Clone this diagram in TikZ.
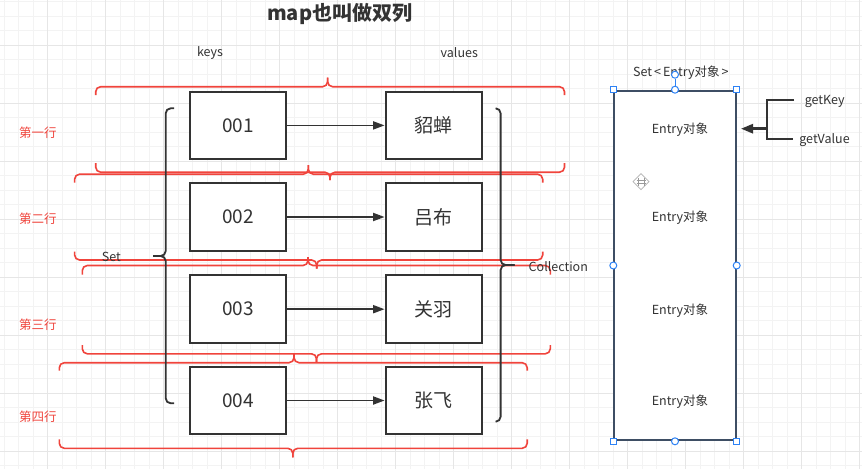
\documentclass[tikz,border=0pt]{standalone}
\usepackage{fontspec}
\setmainfont{Noto Sans CJK SC}
\usetikzlibrary{arrows.meta}
\definecolor{redb}{RGB}{240,68,60}
\definecolor{dk}{RGB}{51,51,51}
\definecolor{gridminor}{RGB}{243,243,243}
\definecolor{gridmajor}{RGB}{230,230,230}
\definecolor{rectc}{RGB}{62,78,100}
\definecolor{handlec}{RGB}{45,130,245}
\newcommand\rowbrace[6]{%
  \draw[redbrace] ({#1},{#4+(#6)}) -- ({#1},{#4}) -- ({#3},{#4}) -- ({#3},{#4+(#5)});
  \draw[redbrace] ({#3},{#4+(#5)}) -- ({#3},{#4}) -- ({#2},{#4}) -- ({#2},{#4+(#6)});
}
\tikzset{
  redbrace/.style={draw=redb, line width=1.6pt, rounded corners=5pt},
  blkbrace/.style={draw=dk, line width=1.8pt, rounded corners=5pt},
  kvbox/.style={draw=dk, fill=white, line width=2pt, minimum width=96pt, minimum height=67.5pt,
    inner sep=0pt, text=dk, font=\fontsize{19}{19}\selectfont},
  kvarrow/.style={draw=dk, line width=1.8pt, -{Triangle[length=11.5pt,width=8pt]}},
  small/.style={text=dk, font=\fontsize{12.5}{12.5}\selectfont, inner sep=0pt},
  rowlab/.style={text=redb, font=\fontsize{12.5}{12.5}\selectfont, inner sep=0pt},
  hsq/.style={draw=handlec, fill=white, line width=1pt, minimum size=6.5pt, inner sep=0pt},
  hcirc/.style={draw=handlec, fill=white, line width=1pt, circle, minimum size=7pt, inner sep=0pt},
}
\begin{document}
\begin{tikzpicture}[x=1pt,y=-1pt]
\useasboundingbox (0,0) rectangle (862,469);
\fill[white] (0,0) rectangle (862,469);
% background grid
\foreach \gx in {0,...,59} {\draw[gridminor, line width=0.8pt] ({4.2+14.5*\gx},0) -- ({4.2+14.5*\gx},469);}
\foreach \gy in {0,...,32} {\draw[gridminor, line width=0.8pt] (0,{1.5+14.5*\gy}) -- (862,{1.5+14.5*\gy});}
\foreach \gx in {0,...,14} {\draw[gridmajor, line width=0.8pt] ({47.7+58*\gx},0) -- ({47.7+58*\gx},469);}
\foreach \gy in {0,...,7} {\draw[gridmajor, line width=0.8pt] (0,{45+58*\gy}) -- (862,{45+58*\gy});}

% title and headers
\node[text=dk, font=\bfseries\fontsize{20}{20}\selectfont, inner sep=0pt] (title) at (339.7,14) {map也叫做双列};
\node[small] (keys) at (210,52.7) {keys};
\node[small] (values) at (459.3,52.7) {values};

% red row braces
\rowbrace{95.7}{564.5}{327.6}{86.7}{-9}{8.5}
\rowbrace{95.7}{564.5}{330}{172.2}{8}{-9}
\rowbrace{74.6}{542.7}{308.3}{174.2}{-9}{8.5}
\rowbrace{74.6}{542.7}{316.7}{260}{8.5}{-8.5}
\rowbrace{82.3}{550.3}{308}{265.5}{-8.5}{9}
\rowbrace{82.3}{550.3}{316.5}{353.8}{9}{-8.7}
\rowbrace{59.3}{527.2}{294}{362.7}{-9}{8}
\rowbrace{59.3}{527.2}{292.8}{448.3}{9}{-9}

% black braces
\draw[blkbrace] (174,108.3) -- (165.7,108.3) -- (165.7,256) -- (153,256);
\draw[blkbrace] (153,256) -- (165.7,256) -- (165.7,403.3) -- (174,403.3);
\draw[blkbrace] (495.6,108.3) -- (500.6,108.3) -- (500.6,265) -- (514.7,265);
\draw[blkbrace] (514.7,265) -- (500.6,265) -- (500.6,421.7) -- (495.6,421.7);

% boxes
\node[kvbox] (k1) at (238.2,125.4) {001};
\node[kvbox] (k2) at (238.2,217) {002};
\node[kvbox] (k3) at (238.2,309.2) {003};
\node[kvbox] (k4) at (238.2,400.5) {004};
\node[kvbox] (v1) at (433.6,125.4) {貂蝉};
\node[kvbox] (v2) at (433.6,217) {吕布};
\node[kvbox] (v3) at (433.6,309.2) {关羽};
\node[kvbox] (v4) at (433.6,400.5) {张飞};
\draw[kvarrow] (k1) -- (v1);
\draw[kvarrow] (k2) -- (v2);
\draw[kvarrow] (k3) -- (v3);
\draw[kvarrow] (k4) -- (v4);

% labels
\node[rowlab] (r1) at (37.8,132.7) {第一行};
\node[rowlab] (r2) at (37.8,219) {第二行};
\node[rowlab] (r3) at (37.8,324.3) {第三行};
\node[rowlab] (r4) at (37.8,416.7) {第四行};
\node[small] (setl) at (111.3,257) {Set};
\node[small] (coll) at (558.3,267) {Collection};

% entry set rectangle
\node[small] (setentry) at (680.8,72.7) {Set\,<\,Entry对象\,>};
\node[draw=rectc, fill=white, line width=2pt, minimum width=121.4pt, minimum height=349.6pt, inner sep=0pt] (ent) at (675,265.5) {};
\node[small] (e1) at (680,129.3) {Entry对象};
\node[small] (e2) at (680,217.3) {Entry对象};
\node[small] (e3) at (680,311) {Entry对象};
\node[small] (e4) at (680,401.7) {Entry对象};
% selection handles
\node[hcirc] (rot) at (675,74.7) {};
\draw[handlec, line width=1pt] (rot) -- (ent.north);
\node[hsq] (h1) at (ent.north west) {};
\node[hsq] (h2) at (ent.north east) {};
\node[hsq] (h3) at (ent.south west) {};
\node[hsq] (h4) at (ent.south east) {};
\node[hcirc] (h5) at (ent.north) {};
\node[hcirc] (h6) at (ent.south) {};
\node[hcirc] (h7) at (ent.west) {};
\node[hcirc] (h8) at (ent.east) {};
% move cursor icon
\draw[gray!60, line width=0.7pt, fill=white] (633,181.7) -- (641,173.7) -- (649,181.7) -- (641,189.7) -- cycle;
\draw[gray!80, line width=0.9pt] (638,177.5) -- (638,186) (644,177.5) -- (644,186) (636.5,180) -- (645.5,180) (636.5,183.5) -- (645.5,183.5);

% getKey / getValue
\node[small] (gk) at (824.7,101) {getKey};
\node[small] (gv) at (824.5,140) {getValue};
\coordinate (bk) at (766.7,128.7);
\coordinate (tipR) at (740.7,128.7);
\draw[dk, line width=2pt] (794,100) -- (766.7,100) -- (766.7,139.3) -- (792.7,139.3);
\draw[dk, line width=3pt, -{Triangle[length=12.5pt,width=9pt]}] (bk) -- (tipR);
\end{tikzpicture}
\end{document}
